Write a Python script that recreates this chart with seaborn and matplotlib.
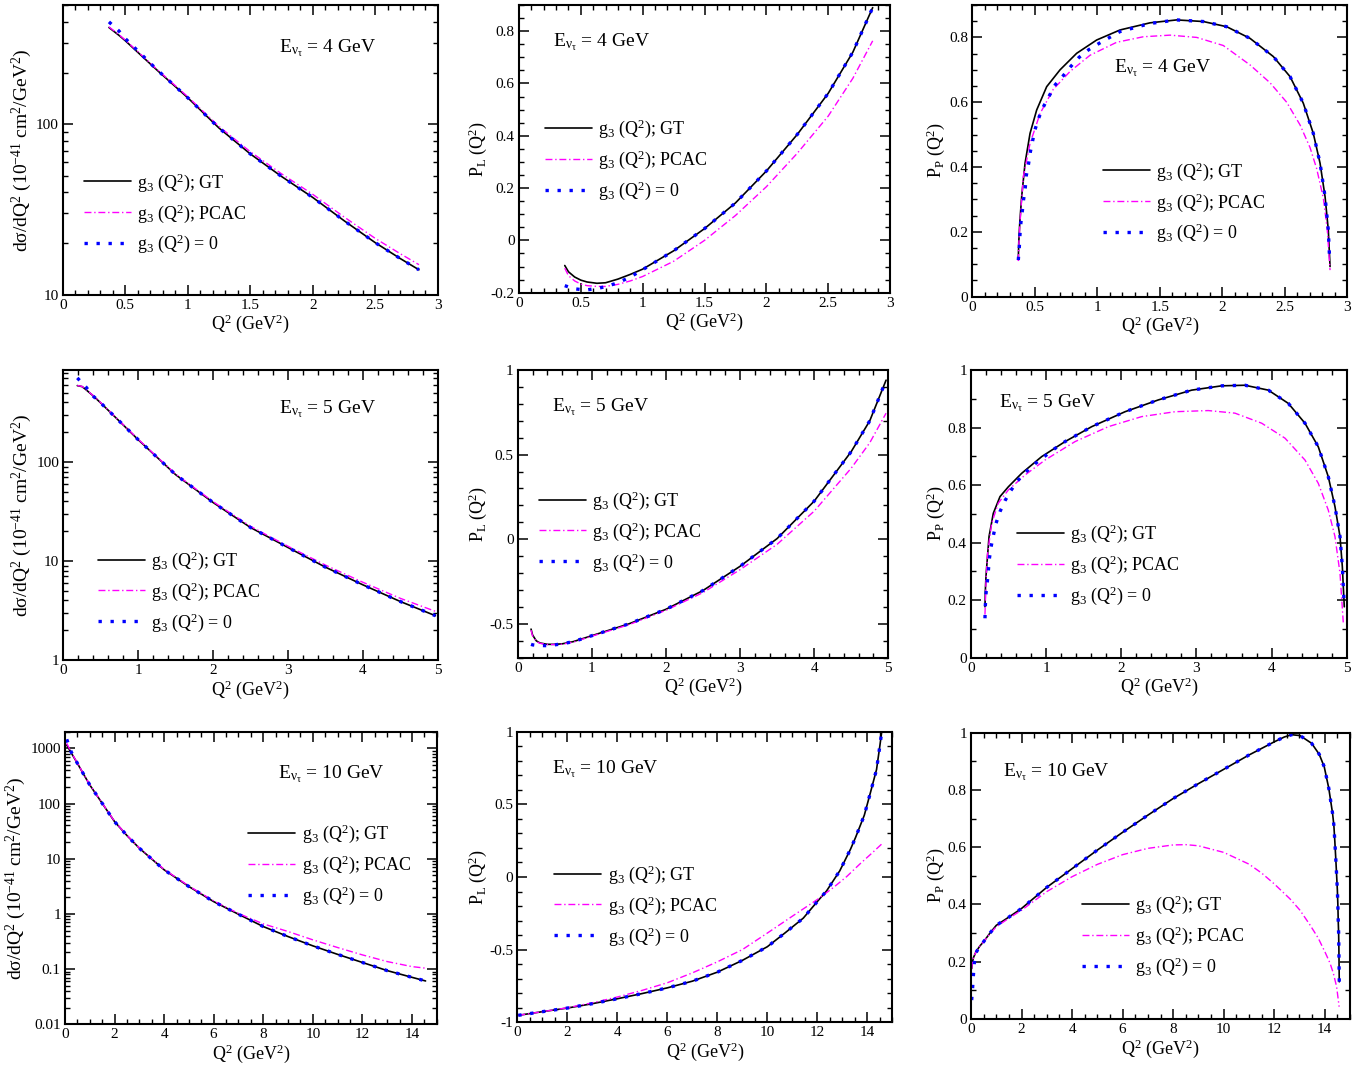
import numpy as np
import pandas as pd
import matplotlib
matplotlib.use("Agg")
import matplotlib.pyplot as plt
import seaborn as sns
from matplotlib.ticker import MultipleLocator, LogLocator, FuncFormatter, NullFormatter
from matplotlib.lines import Line2D

# ---------------- data ----------------
# Row 1: E = 4 GeV
A_x = [0.37, 0.45, 0.5, 0.75, 1.0, 1.25, 1.5, 1.75, 2.0, 2.25, 2.5, 2.7, 2.85]
A_gt = [369, 332, 309, 209, 143, 95, 67, 49.4, 37.2, 27.2, 20.2, 16.3, 14.0]
A_pcac = [372, 335, 312, 211, 145, 97, 69, 51.2, 38.8, 28.6, 21.4, 17.4, 15.0]
A_zero = [398, 352, 318, 210, 143, 95, 67, 49.4, 37.2, 27.2, 20.2, 16.3, 14.0]

B_x = [0.37, 0.4, 0.45, 0.5, 0.55, 0.63, 0.7, 0.8, 0.9, 1.0, 1.25, 1.5, 1.75, 2.0, 2.25, 2.5, 2.7, 2.86]
B_gt = [-0.096, -0.12, -0.14, -0.152, -0.159, -0.164, -0.162, -0.148, -0.13, -0.11, -0.04, 0.045, 0.143,
        0.265, 0.405, 0.562, 0.72, 0.89]
B_pcac = [-0.106, -0.135, -0.155, -0.167, -0.173, -0.176, -0.176, -0.168, -0.155, -0.138, -0.08, 0.0, 0.095,
          0.205, 0.333, 0.475, 0.62, 0.763]
B_zero = [-0.173, -0.178, -0.185, -0.188, -0.189, -0.184, -0.177, -0.162, -0.14, -0.112, -0.04, 0.045, 0.143,
          0.265, 0.405, 0.562, 0.72, 0.89]

C_gt_x = [0.368, 0.372, 0.38, 0.395, 0.422, 0.462, 0.515, 0.595, 0.702, 0.835, 0.995, 1.182, 1.422, 1.635,
          1.848, 2.035, 2.222, 2.408, 2.542, 2.648, 2.728, 2.782, 2.822, 2.848, 2.862]
C_gt = [0.118, 0.17, 0.23, 0.309, 0.412, 0.504, 0.576, 0.648, 0.70, 0.751, 0.792, 0.823, 0.845, 0.854, 0.849,
        0.833, 0.797, 0.741, 0.679, 0.597, 0.504, 0.412, 0.309, 0.206, 0.093]
C_pcac_x = [0.368, 0.372, 0.38, 0.408, 0.462, 0.542, 0.648, 0.782, 0.942, 1.155, 1.368, 1.582, 1.795, 2.008,
            2.222, 2.382, 2.515, 2.622, 2.702, 2.755, 2.808, 2.84, 2.862]
C_pcac = [0.11, 0.16, 0.22, 0.37, 0.473, 0.565, 0.64, 0.695, 0.745, 0.785, 0.802, 0.807, 0.80, 0.775, 0.715,
          0.66, 0.6, 0.53, 0.46, 0.395, 0.305, 0.206, 0.082]
C_zero_x = [0.368, 0.376, 0.381, 0.389, 0.4, 0.41, 0.424, 0.432, 0.45, 0.464, 0.483, 0.501, 0.536, 0.573,
            0.616, 0.664, 0.728, 0.787, 0.853, 0.931, 1.016, 1.182, 1.422, 1.635, 1.848, 2.035, 2.222, 2.408,
            2.542, 2.648, 2.728, 2.782, 2.822, 2.848, 2.858]
C_zero = [0.113, 0.152, 0.19, 0.229, 0.263, 0.299, 0.337, 0.374, 0.41, 0.446, 0.482, 0.515, 0.556, 0.589,
          0.62, 0.654, 0.682, 0.71, 0.738, 0.762, 0.782, 0.818, 0.843, 0.854, 0.849, 0.833, 0.797, 0.741,
          0.679, 0.597, 0.504, 0.412, 0.309, 0.206, 0.12]

# Row 2: E = 5 GeV
D_x = [0.187, 0.25, 0.3, 0.4, 0.5, 0.75, 1.0, 1.25, 1.5, 2.0, 2.5, 3.0, 3.5, 4.0, 4.5, 4.97]
D_gt = [591, 578, 540, 465, 395, 258, 168, 112, 74.5, 39, 21.8, 13.7, 8.67, 5.75, 3.9, 2.8]
D_pcac = [593, 580, 543, 468, 398, 260, 170, 113, 75.5, 39.8, 22.4, 14.1, 9.1, 6.1, 4.2, 3.1]
D_zero = [707, 630, 575, 462, 395, 258, 168, 112, 74.5, 39, 21.8, 13.7, 8.67, 5.75, 3.9, 2.8]

E_x = [0.18, 0.2, 0.25, 0.3, 0.4, 0.5, 0.6, 0.75, 1.0, 1.5, 2.0, 2.5, 3.0, 3.5, 4.0, 4.5, 4.75, 4.97]
E_gt = [-0.531, -0.565, -0.6, -0.613, -0.621, -0.621, -0.618, -0.605, -0.57, -0.5, -0.414, -0.303, -0.16,
        0.004, 0.225, 0.518, 0.7, 0.94]
E_pcac = [-0.537, -0.57, -0.603, -0.615, -0.622, -0.622, -0.62, -0.608, -0.573, -0.505, -0.42, -0.315, -0.18,
          -0.03, 0.166, 0.42, 0.57, 0.745]
E_zero = [-0.621, -0.624, -0.627, -0.628, -0.629, -0.624, -0.618, -0.605, -0.57, -0.5, -0.414, -0.303, -0.16,
          0.004, 0.225, 0.518, 0.7, 0.94]

F_gt_x = [0.186, 0.192, 0.2, 0.209, 0.24, 0.297, 0.386, 0.497, 0.675, 0.941, 1.251, 1.606, 2.05, 2.493, 2.937,
          3.336, 3.646, 3.957, 4.223, 4.445, 4.622, 4.755, 4.844, 4.911, 4.942, 4.968]
F_gt = [0.177, 0.24, 0.285, 0.316, 0.421, 0.502, 0.56, 0.594, 0.641, 0.699, 0.751, 0.803, 0.855, 0.896, 0.93,
        0.945, 0.947, 0.93, 0.884, 0.815, 0.733, 0.629, 0.525, 0.421, 0.316, 0.177]
F_pcac_x = [0.186, 0.2, 0.22, 0.275, 0.363, 0.497, 0.719, 0.985, 1.384, 1.827, 2.272, 2.715, 3.158, 3.513,
            3.869, 4.179, 4.445, 4.622, 4.755, 4.844, 4.911, 4.955]
F_pcac = [0.15, 0.27, 0.36, 0.467, 0.537, 0.583, 0.635, 0.687, 0.751, 0.803, 0.838, 0.855, 0.859, 0.85,
          0.815, 0.763, 0.687, 0.606, 0.513, 0.421, 0.293, 0.12]
F_zero_x = [0.186, 0.19, 0.2, 0.217, 0.231, 0.244, 0.266, 0.297, 0.333, 0.386, 0.453, 0.528, 0.617, 0.728,
            0.852, 0.976, 1.105, 1.251, 1.606, 2.05, 2.493, 2.937, 3.336, 3.646, 3.957, 4.223, 4.445, 4.622,
            4.755, 4.844, 4.911, 4.942, 4.968]
F_zero = [0.137, 0.177, 0.224, 0.262, 0.303, 0.343, 0.384, 0.424, 0.467, 0.508, 0.546, 0.58, 0.614, 0.645,
          0.674, 0.699, 0.725, 0.751, 0.803, 0.855, 0.896, 0.93, 0.945, 0.947, 0.93, 0.884, 0.815, 0.733,
          0.629, 0.525, 0.421, 0.316, 0.177]

# Row 3: E = 10 GeV
G_x = [0.07, 0.25, 0.5, 0.75, 1.0, 1.5, 2.0, 2.5, 3.0, 4.0, 5.0, 6.0, 7.0, 8.0, 9.0, 10.0, 11.0, 12.0, 13.0,
       14.0, 14.55]
G_gt = [1148, 830, 535, 339, 217, 101, 47, 26.3, 15.5, 6.3, 3.13, 1.67, 0.986, 0.59, 0.389, 0.264, 0.185,
        0.132, 0.094, 0.071, 0.061]
G_pcac = [1230, 850, 540, 342, 219, 102, 47.5, 26.6, 15.7, 6.4, 3.2, 1.72, 1.02, 0.66, 0.48, 0.339, 0.246,
          0.181, 0.137, 0.111, 0.104]
G_zero = [1456, 860, 535, 339, 217, 101, 47, 26.3, 15.5, 6.3, 3.13, 1.67, 0.986, 0.59, 0.389, 0.264, 0.185,
          0.132, 0.094, 0.071, 0.061]

H_gt_x = [0.04, 1, 2, 3, 4, 5, 6, 7, 8, 9, 10, 10.7, 11.44, 12, 12.37, 12.9, 13.33, 13.53, 13.88, 14.13,
          14.37, 14.5, 14.57]
H_gt = [-0.952, -0.927, -0.902, -0.872, -0.838, -0.802, -0.763, -0.717, -0.655, -0.574, -0.48, -0.386,
        -0.283, -0.169, -0.096, 0.043, 0.192, 0.272, 0.425, 0.584, 0.74, 0.9, 0.99]
H_pcac_x = [0.04, 1, 2, 3, 4, 5, 6, 7, 8, 9, 10, 11, 12, 12.64, 13.17, 13.7, 14.24, 14.57]
H_pcac = [-0.952, -0.927, -0.9, -0.866, -0.826, -0.78, -0.728, -0.66, -0.584, -0.5, -0.386, -0.27, -0.155,
          -0.073, 0.002, 0.089, 0.173, 0.226]
H_zero_x = H_gt_x
H_zero = H_gt

I_gt_x = [0.026, 0.06, 0.1, 0.2, 0.35, 0.5, 0.75, 1.0, 1.5, 2.0, 3.0, 4.0, 5.0, 6.0, 7.0, 8.0, 9.0, 10.0,
          11.0, 12.0, 12.4, 12.69, 13.02, 13.48, 13.78, 13.98, 14.16, 14.23, 14.31, 14.36, 14.4, 14.44, 14.47,
          14.5, 14.52, 14.535, 14.55, 14.56, 14.57, 14.575]
I_gt = [0.176, 0.2, 0.215, 0.235, 0.255, 0.27, 0.3, 0.327, 0.356, 0.386, 0.46, 0.525, 0.59, 0.652, 0.712,
        0.77, 0.822, 0.872, 0.922, 0.968, 0.985, 0.993, 0.99, 0.963, 0.925, 0.881, 0.806, 0.765, 0.718, 0.678,
        0.62, 0.555, 0.503, 0.45, 0.398, 0.34, 0.3, 0.247, 0.171, 0.13]
I_pcac_x = [0.026, 0.06, 0.1, 0.2, 0.35, 0.5, 0.75, 1.0, 1.5, 2.0, 3.0, 4.0, 5.0, 6.0, 7.0, 8.0, 8.5, 9.0,
            10.0, 11.0, 11.5, 12.0, 12.62, 13.02, 13.42, 13.74, 14.01, 14.21, 14.34, 14.47, 14.57]
I_pcac = [0.176, 0.2, 0.215, 0.235, 0.255, 0.27, 0.298, 0.322, 0.352, 0.38, 0.445, 0.497, 0.54, 0.574,
          0.596, 0.608, 0.609, 0.605, 0.582, 0.541, 0.51, 0.472, 0.42, 0.38, 0.328, 0.283, 0.234, 0.195, 0.16,
          0.113, 0.043]
I_zero_x = [0.026, 0.066, 0.09, 0.13, 0.2, 0.35, 0.5, 0.75, 1.0, 1.5, 2.0, 3.0, 4.0, 5.0, 6.0, 7.0, 8.0, 9.0,
            10.0, 11.0, 12.0, 12.4, 12.69, 13.02, 13.48, 13.78, 13.98, 14.16, 14.23, 14.31, 14.36, 14.4, 14.44,
            14.47, 14.5, 14.52, 14.535, 14.55, 14.56, 14.57, 14.575]
I_zero = [0.066, 0.112, 0.147, 0.194, 0.232, 0.255, 0.27, 0.3, 0.327, 0.356, 0.386, 0.46, 0.525, 0.59,
          0.652, 0.712, 0.77, 0.822, 0.872, 0.922, 0.968, 0.985, 0.993, 0.99, 0.963, 0.925, 0.881, 0.806,
          0.765, 0.718, 0.678, 0.62, 0.555, 0.503, 0.45, 0.398, 0.34, 0.3, 0.247, 0.171, 0.13]

LEGEND_LABELS = ["g$_3$ (Q$^2$); GT", "g$_3$ (Q$^2$); PCAC", "g$_3$ (Q$^2$) = 0"]
ENERGIES = ["4", "5", "10"]

# ---------------- style ----------------
sns.set_style("ticks")
plt.rcParams["font.family"] = ["Liberation Serif", "DejaVu Serif"]
plt.rcParams["mathtext.fontset"] = "custom"
plt.rcParams["mathtext.rm"] = "Liberation Serif"
plt.rcParams["mathtext.it"] = "Liberation Serif:italic"
plt.rcParams["mathtext.bf"] = "Liberation Serif:bold"
plt.rcParams["axes.unicode_minus"] = False
for k in ["text.color", "axes.labelcolor", "xtick.color", "ytick.color", "axes.edgecolor"]:
    plt.rcParams[k] = "black"

W, H = 1372, 1070
fig = plt.figure(figsize=(W / 100, H / 100), dpi=100)

DSIG = "d\u03c3/dQ$^2$ (10$^{-41}$ cm$^2$/GeV$^2$)"
PL = "P$_\\mathrm{L}$ (Q$^2$)"
PP = "P$_\\mathrm{P}$ (Q$^2$)"

STYLES = [dict(color="black", lw=1.2, linestyle="-"),
          dict(color="#ff00ff", lw=1.0, linestyle=(0, (5, 2, 1, 2))),
          dict(color="#0000ff", lw=2.4, linestyle=(0, (1, 2.6)))]

panels = [
    dict(rect=(62.7, 5, 437.7, 294.7), xlim=(0, 3), ylim=(10, 500), log=True, xmaj=0.5, xmin=0.1,
         ylabel=DSIG, yfs=14, E=ENERGIES[0], epos=(279, 52.7), leg=(84, 181.7), ylx=34,
         series=[(A_x, A_gt), (A_x, A_pcac), (A_x, A_zero)]),
    dict(rect=(519, 5, 890, 292.7), xlim=(0, 3), ylim=(-0.2, 0.9), log=False, xmaj=0.5, xmin=0.1,
         ymaj=0.2, ymin=0.05, ylabel=PL, yfs=13, E=ENERGIES[0], epos=(552.7, 46.7), leg=(545, 128.3), ylx=489,
         series=[(B_x, B_gt), (B_x, B_pcac), (B_x, B_zero)]),
    dict(rect=(972.3, 5, 1347.3, 296.7), xlim=(0, 3), ylim=(0, 0.9), log=False, xmaj=0.5, xmin=0.1,
         ymaj=0.2, ymin=0.05, ylabel=PP, yfs=13, E=ENERGIES[0], epos=(1114, 72.7), leg=(1102.7, 170.7), ylx=947,
         series=[(C_gt_x, C_gt), (C_pcac_x, C_pcac), (C_zero_x, C_zero)]),
    dict(rect=(63.3, 370, 437.7, 660), xlim=(0, 5), ylim=(1, 850), log=True, xmaj=1, xmin=0.2,
         ylabel=DSIG, yfs=14, E=ENERGIES[1], epos=(279.3, 413.3), leg=(97.7, 560), ylx=34,
         series=[(D_x, D_gt), (D_x, D_pcac), (D_x, D_zero)]),
    dict(rect=(517.7, 370, 888.3, 657.7), xlim=(0, 5), ylim=(-0.7, 1), log=False, xmaj=1, xmin=0.2,
         ymaj=0.5, ymin=0.1, ylabel=PL, yfs=13, E=ENERGIES[1], epos=(551.7, 411), leg=(539, 500), ylx=489,
         series=[(E_x, E_gt), (E_x, E_pcac), (E_x, E_zero)]),
    dict(rect=(971, 370, 1346.7, 657.7), xlim=(0, 5), ylim=(0, 1), log=False, xmaj=1, xmin=0.2,
         ymaj=0.2, ymin=0.1, ylabel=PP, yfs=13, E=ENERGIES[1], epos=(999.3, 407.7), leg=(1016.7, 533.3), ylx=947,
         series=[(F_gt_x, F_gt), (F_pcac_x, F_pcac), (F_zero_x, F_zero)]),
    dict(rect=(65, 731.7, 436.7, 1024.3), xlim=(0, 15), ylim=(0.01, 2000), log=True, xmaj=2, xmin=0.5,
         ylabel=DSIG, yfs=14, E=ENERGIES[2], epos=(277.7, 778.3), leg=(248.3, 833.3), ylx=28,
         series=[(G_x, G_gt), (G_x, G_pcac), (G_x, G_zero)]),
    dict(rect=(517.3, 731.7, 892.3, 1022.3), xlim=(0, 15), ylim=(-1, 1), log=False, xmaj=2, xmin=0.5,
         ymaj=0.5, ymin=0.1, ylabel=PL, yfs=13, E=ENERGIES[2], epos=(551.7, 773.3), leg=(554.3, 874), ylx=489,
         series=[(H_gt_x, H_gt), (H_pcac_x, H_pcac), (H_zero_x, H_zero)]),
    dict(rect=(971, 732.7, 1350, 1019), xlim=(0, 15), ylim=(0, 1), log=False, xmaj=2, xmin=0.5,
         ymaj=0.2, ymin=0.1, ylabel=PP, yfs=13, E=ENERGIES[2], epos=(1003.3, 776.7), leg=(1081.7, 904.3), ylx=947,
         series=[(I_gt_x, I_gt), (I_pcac_x, I_pcac), (I_zero_x, I_zero)]),
]

fmt = FuncFormatter(lambda v, _: f"{v:g}")

for p in panels:
    l, t, r, b = p["rect"]
    ax = fig.add_axes([l / W, 1 - b / H, (r - l) / W, (b - t) / H])
    handles = []
    for (xs, ys), st in zip(p["series"], STYLES):
        df = pd.DataFrame({"Q2": xs, "val": ys})
        sns.lineplot(data=df, x="Q2", y="val", ax=ax, errorbar=None, sort=False, legend=False,
                     color=st["color"], lw=st["lw"], linestyle=st["linestyle"])
        handles.append(Line2D([], [], color=st["color"], lw=st["lw"], linestyle=st["linestyle"]))
    if p["log"]:
        ax.set_yscale("log")
        ax.yaxis.set_major_locator(LogLocator(base=10))
        ax.yaxis.set_minor_locator(LogLocator(base=10, subs=np.arange(2, 10)))
        ax.yaxis.set_minor_formatter(NullFormatter())
    else:
        ax.yaxis.set_major_locator(MultipleLocator(p["ymaj"]))
        ax.yaxis.set_minor_locator(MultipleLocator(p["ymin"]))
    ax.yaxis.set_major_formatter(fmt)
    ax.xaxis.set_major_locator(MultipleLocator(p["xmaj"]))
    ax.xaxis.set_minor_locator(MultipleLocator(p["xmin"]))
    ax.xaxis.set_major_formatter(fmt)
    ax.set_xlim(*p["xlim"])
    ax.set_ylim(*p["ylim"])
    for s in ax.spines.values():
        s.set_linewidth(1.5)
        s.set_color("black")
    ax.tick_params(which="both", direction="in", top=True, right=True, labelsize=11, pad=3)
    ax.tick_params(which="major", length=7, width=1.1)
    ax.tick_params(which="minor", length=3.8, width=1.0)
    ax.set_xlabel("Q$^2$ (GeV$^2$)", fontsize=13)
    ax.set_ylabel(p["ylabel"], fontsize=p["yfs"])
    wpx, hpx = r - l, b - t
    ax.xaxis.set_label_coords(0.5, -18 / hpx)
    ax.yaxis.set_label_coords((p["ylx"] - l) / wpx, 0.5)
    ex, ey = p["epos"]
    fig.text(ex / W, 1 - ey / H, "E$_{\\mathrm{\u03bd}_{\\mathrm{\u03c4}}}$ = " + p["E"] + " GeV",
             fontsize=14, ha="left", va="baseline")
    hx, hy = p["leg"]
    ax.legend(handles, LEGEND_LABELS, loc="upper left", bbox_to_anchor=(hx / W, 1 - (hy - 10.5) / H),
              bbox_transform=fig.transFigure, frameon=False, borderpad=0, borderaxespad=0,
              handlelength=2.6, handletextpad=0.35, labelspacing=0.46, fontsize=13)

fig.savefig("out.png", dpi=100)
